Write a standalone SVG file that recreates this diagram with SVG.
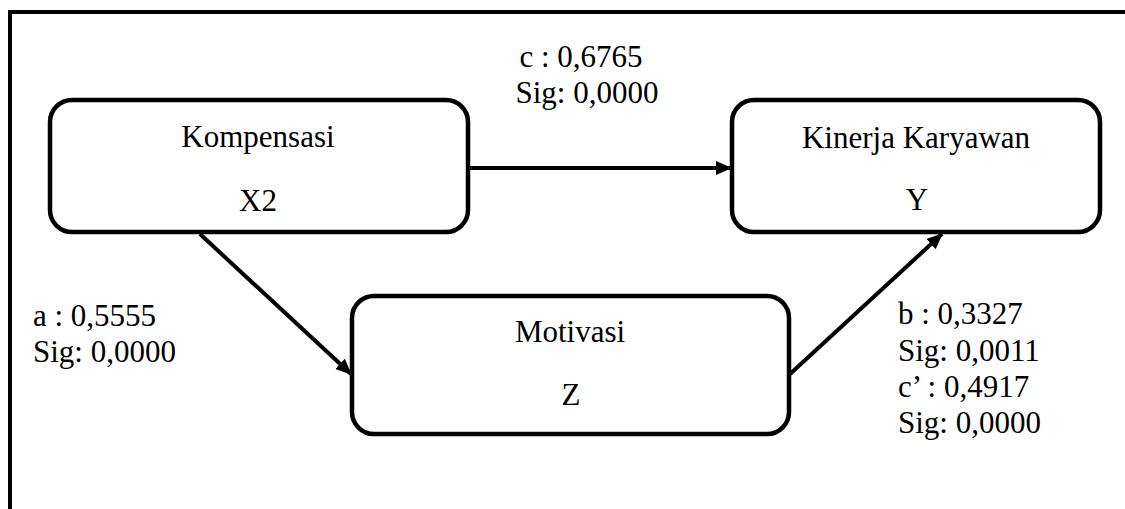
<svg xmlns="http://www.w3.org/2000/svg" width="1125" height="509" viewBox="0 0 1125 509">
  <style>
    .box { fill: #ffffff; stroke: #000000; stroke-width: 4.5; }
    .edge { fill: none; stroke: #000000; stroke-width: 4; }
    .frame { fill: none; stroke: #000000; stroke-width: 4; }
    .lbl { font-family: 'Liberation Serif', 'DejaVu Serif', serif; font-size: 31px; fill: #000000; }
    .mid { text-anchor: middle; }
  </style>
  <defs>
    <marker id="arrow" markerUnits="userSpaceOnUse" markerWidth="16" markerHeight="16" viewBox="0 0 16 16" refX="15" refY="8" orient="auto">
      <path d="M0,1 L16,8 L0,15 Z" fill="#000000"/>
    </marker>
  </defs>

  <rect width="1125" height="509" fill="#ffffff"/>

  <!-- open frame: top and left sides only -->
  <path class="frame" d="M10,509 L10,12 L1125,12"/>

  <g id="connectors">
    <line class="edge" x1="468" y1="168" x2="731" y2="168" marker-end="url(#arrow)"/>
    <line class="edge" x1="200" y1="234" x2="351" y2="374" marker-end="url(#arrow)"/>
    <line class="edge" x1="790" y1="374" x2="942" y2="234" marker-end="url(#arrow)"/>
  </g>

  <g id="node-kompensasi">
    <rect class="box" x="50" y="100" width="418" height="132" rx="22" ry="22"/>
    <text class="lbl mid" x="258" y="147">Kompensasi</text>
    <text class="lbl mid" x="258" y="211">X2</text>
  </g>

  <g id="node-kinerja">
    <rect class="box" x="732" y="100" width="368" height="132" rx="22" ry="22"/>
    <text class="lbl mid" x="916" y="148">Kinerja Karyawan</text>
    <text class="lbl mid" x="917" y="210">Y</text>
  </g>

  <g id="node-motivasi">
    <rect class="box" x="352" y="296" width="437" height="138" rx="22" ry="22"/>
    <text class="lbl mid" x="570" y="342">Motivasi</text>
    <text class="lbl mid" x="571" y="405">Z</text>
  </g>

  <g id="labels">
    <text class="lbl mid" x="581" y="67">c : 0,6765</text>
    <text class="lbl mid" x="587" y="103">Sig: 0,0000</text>
    <text class="lbl" x="33" y="326">a : 0,5555</text>
    <text class="lbl" x="33" y="362">Sig: 0,0000</text>
    <text class="lbl" x="898" y="324">b : 0,3327</text>
    <text class="lbl" x="898" y="361">Sig: 0,0011</text>
    <text class="lbl" x="898" y="397">c’ : 0,4917</text>
    <text class="lbl" x="898" y="433">Sig: 0,0000</text>
  </g>
</svg>
